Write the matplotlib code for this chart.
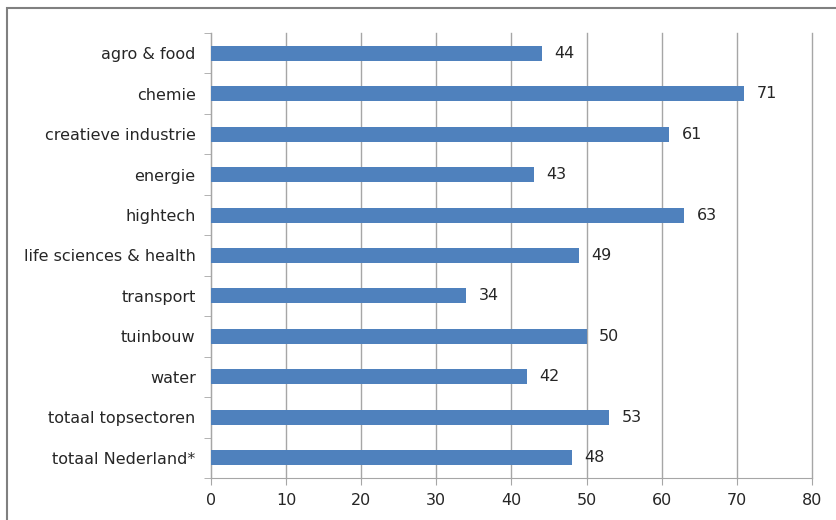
import matplotlib.pyplot as plt
from matplotlib.patches import Rectangle

plt.rcParams["font.family"] = ["DejaVu Sans"]

categories = ["agro & food", "chemie", "creatieve industrie", "energie", "hightech",
              "life sciences & health", "transport", "tuinbouw", "water",
              "totaal topsectoren", "totaal Nederland*"]
values = [44, 71, 61, 43, 63, 49, 34, 50, 42, 53, 48]
xticks = [0, 10, 20, 30, 40, 50, 60, 70, 80]

BAR = "#4F81BD"
GRID = "#A6A6A6"
TEXT = "#262626"
FS = 11.5

fig = plt.figure(figsize=(8.37, 5.2), dpi=100)
ax = fig.add_axes([211 / 837, 1 - 478 / 520, 601 / 837, 445 / 520])

y = list(range(len(categories)))
ax.barh(y, values, height=0.37, color=BAR, zorder=3)
for yi, v in zip(y, values):
    ax.annotate(str(v), (v, yi), xytext=(9, 0), textcoords="offset points",
                va="center", ha="left", fontsize=FS, color=TEXT)

ax.set_xlim(0, 80)
ax.set_ylim(len(categories) - 0.5, -0.5)
ax.set_xticks(xticks)
ax.set_xticklabels([str(t) for t in xticks], fontsize=FS, color=TEXT)
ax.set_yticks(y)
ax.set_yticklabels(categories, fontsize=FS, color=TEXT)
ax.set_yticks([i + 0.5 for i in range(-1, len(categories))], minor=True)
ax.tick_params(axis="y", which="major", length=0, pad=11)
ax.tick_params(axis="y", which="minor", length=5, color=GRID)
ax.tick_params(axis="x", length=5, color=GRID, pad=6)
ax.xaxis.grid(True, color=GRID, linewidth=1, zorder=0)
for gl in ax.get_xgridlines():
    gl.set_clip_on(False)
for side in ["top", "right"]:
    ax.spines[side].set_visible(False)
for side in ["left", "bottom"]:
    ax.spines[side].set_color(GRID)

fig.patches.append(Rectangle((7 / 837, -0.1), 1.0, 1 - 8 / 520 + 0.1,
                             transform=fig.transFigure, fill=False,
                             edgecolor="#808080", linewidth=1.5))

fig.savefig("out.png", dpi=100)
